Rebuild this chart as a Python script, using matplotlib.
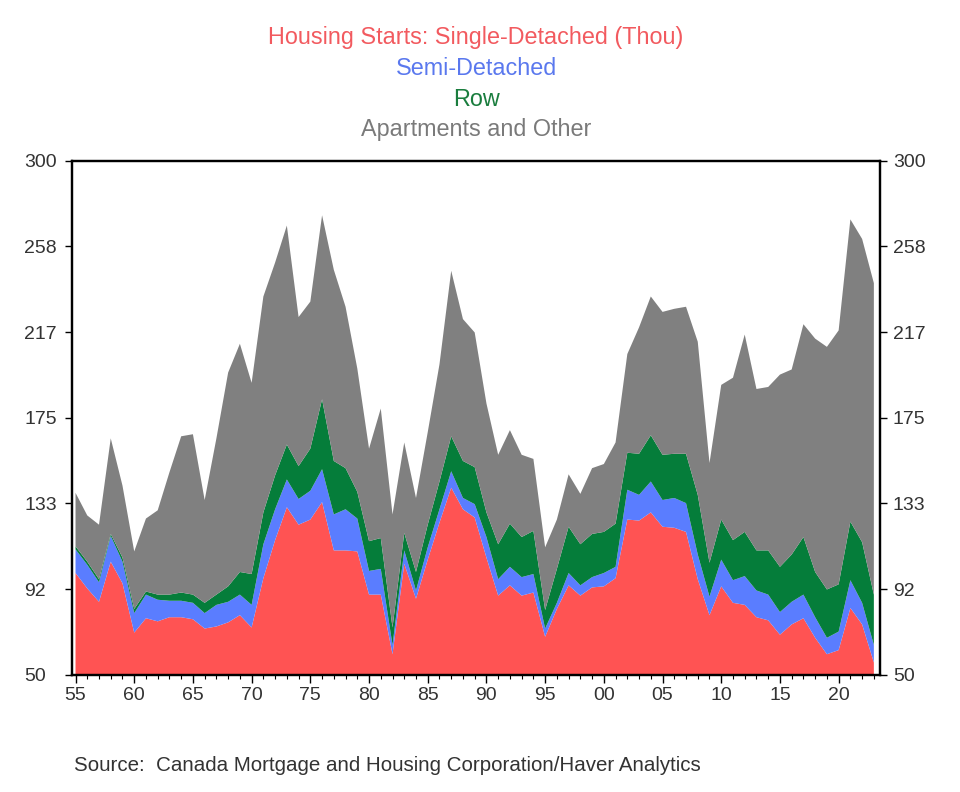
import numpy as np
import matplotlib.pyplot as plt

plt.rcParams['font.family'] = ['Liberation Sans', 'DejaVu Sans']

# Housing starts by type, thousands
years = np.arange(1955, 2024)

single = [99.5, 92, 85.5, 105, 94.5, 70.5, 77.5, 76, 78, 78,
          77, 72.5, 73.5, 75.5, 79, 73, 97, 115.5, 131.5, 123,
          125.5, 134, 110.5, 110.5, 110, 89, 89, 60, 104, 87,
          106, 124, 141, 130.5, 126.5, 107, 88.5, 93.5, 88.5, 90,
          68.5, 82, 93.5, 88.5, 92.5, 93, 97, 125.5, 125, 129,
          122, 121.5, 119.5, 96.5, 79, 93, 85, 84, 78, 76.5,
          69.5, 74.5, 77.5, 68, 60, 62, 82.5, 74.5, 56]
semi = [11.5, 11.5, 9.5, 12.5, 10.5, 9.5, 11.5, 10.5, 8, 8,
        8, 7.5, 10.5, 10, 10, 11, 16.5, 15, 13.5, 12.5,
        14, 16, 17.5, 20, 16, 11.5, 12.5, 4.5, 6.5, 4,
        6, 6.5, 8, 5.5, 6.5, 10, 8, 9, 9, 9,
        4, 3, 6, 5, 5, 6.5, 5.5, 14.5, 12.5, 15,
        13, 14.5, 14, 12, 9, 13, 11, 14, 13, 12.5,
        11, 11, 11.5, 10, 8, 9, 13.5, 10.5, 8.5]
row = [1.5, 1.5, 1.5, 1, 2, 2, 1.5, 2.5, 3, 4,
       4, 5, 5, 7.5, 11, 15, 15.5, 16.5, 17, 16,
       20.5, 34, 26, 20, 13, 14.5, 15, 8.5, 8.5, 9,
       11, 13.5, 17, 18, 18, 12, 17, 21, 19.5, 21,
       9, 16.5, 22.5, 20, 21, 20, 21, 18, 20, 22.5,
       22, 21.5, 24, 29, 16.5, 19.5, 19.5, 21.5, 19.5, 21.5,
       22, 23, 28, 22, 23.5, 23, 28.5, 29.5, 24.5]
apartments = [26, 22.5, 26.5, 46.5, 35, 28, 35.5, 41, 59.5, 76,
              78, 50, 76, 104, 111, 93, 105, 103.5, 106.5, 72.5,
              71.5, 89.5, 93, 78.5, 60, 45, 63, 55, 44, 36,
              45, 57, 80.5, 69, 65.5, 53, 43.5, 45.5, 40, 35,
              30.5, 24, 25.5, 24.5, 32, 33, 39.5, 48, 61.5, 67.5,
              69.5, 70.5, 71.5, 74.5, 48.5, 65.5, 79, 96, 78.5, 79.5,
              93.5, 90, 103.5, 113.5, 118, 123.5, 147, 147.5, 151.5]

series_names = ['Housing Starts: Single-Detached (Thou)', 'Semi-Detached',
                'Row', 'Apartments and Other']
colors = ['#FF5353', '#5A7DFF', '#057D3A', '#808080']
title_colors = ['#F25A5F', '#5A78EE', '#1A7D3E', '#7A7A7A']

fig = plt.figure(figsize=(9.6, 7.92), dpi=100)
ax = fig.add_axes([0.075, 0.148, 0.842, 0.649])

ax.stackplot(years, single, semi, row, apartments, colors=colors, linewidth=0)

ax.set_xlim(1954.7, 2023.55)
ax.set_ylim(50, 300)

yticks = np.linspace(50, 300, 7)
ylabels = [f'{v:.0f}' for v in yticks]

# left axis: labels left-aligned
ax.set_yticks(yticks)
ax.set_yticklabels(ylabels, ha='left')
ax.tick_params(axis='y', direction='out', length=5, width=1, pad=29.5,
               labelsize=14, labelcolor='#333333')

# right axis, same scale
ax2 = ax.twinx()
ax2.set_ylim(50, 300)
ax2.set_yticks(yticks)
ax2.set_yticklabels(ylabels)
ax2.tick_params(axis='y', direction='out', length=5, width=1, pad=4,
                labelsize=14, labelcolor='#333333')

xticks = np.arange(1955, 2024, 5)
ax.set_xticks(xticks)
ax.set_xticklabels([f'{y % 100:02d}' for y in xticks])
ax.set_xticks(years, minor=True)
ax.tick_params(axis='x', which='major', direction='out', length=6, width=1,
               labelsize=14, labelcolor='#333333', pad=3)
ax.tick_params(axis='x', which='minor', direction='out', length=3, width=0.8)

for a in (ax, ax2):
    for s in a.spines.values():
        s.set_linewidth(1.6)
        s.set_color('black')

# colour-coded title lines
title_y = [0.953, 0.914, 0.875, 0.837]
for name, c, y in zip(series_names, title_colors, title_y):
    fig.text(0.496, y, name, color=c, fontsize=16.8, ha='center', va='center')

fig.text(0.077, 0.034, 'Source:  Canada Mortgage and Housing Corporation/Haver Analytics',
         fontsize=14.8, color='#333333', ha='left', va='center')

fig.savefig('out.png', dpi=100)
